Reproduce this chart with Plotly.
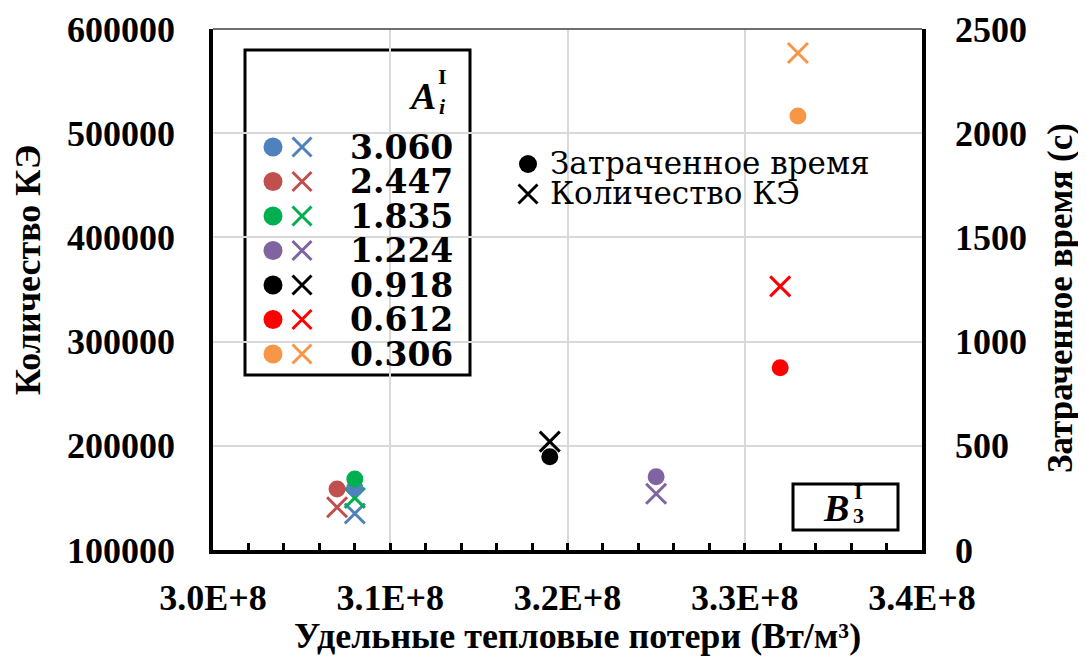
import plotly.graph_objects as go

# ---------------- data ----------------
series_labels = ["3.060", "2.447", "1.835", "1.224", "0.918", "0.612", "0.306"]
series_colors = ["#4F81BD", "#C0504D", "#00B050", "#8064A2", "#000000", "#FF0000", "#F79646"]
heat_loss = [3.08e8, 3.07e8, 3.08e8, 3.25e8, 3.19e8, 3.32e8, 3.33e8]       # W/m3
fe_count = [135000, 141000, 150000, 154000, 204000, 353000, 577000]        # left axis
time_spent = [298, 293, 341, 351, 447, 875, 2082]                          # right axis, s

x_tickvals = [3.0e8, 3.1e8, 3.2e8, 3.3e8, 3.4e8]
x_ticktext = ["3.0E+8", "3.1E+8", "3.2E+8", "3.3E+8", "3.4E+8"]
y_tickvals = [100000, 200000, 300000, 400000, 500000, 600000]
y2_tickvals = [0, 500, 1000, 1500, 2000, 2500]

OFF = 8                          # page body margin of the browser
W, H = 1086 - OFF, 658 - OFF
L, R, T, B = 213, 922, 29, 550   # plot area in screen pixels

SERIF = "Liberation Serif"
CAMB = "DejaVu Serif"

fig = go.Figure()

for i, lab in enumerate(series_labels):
    fig.add_trace(go.Scatter(
        x=[heat_loss[i]], y=[fe_count[i]], mode="markers", yaxis="y", xaxis="x",
        marker=dict(symbol="x-thin-open", size=20, color=series_colors[i],
                    line=dict(color=series_colors[i], width=3)),
        showlegend=False, hoverinfo="skip"))
for i, lab in enumerate(series_labels):
    fig.add_trace(go.Scatter(
        x=[heat_loss[i]], y=[time_spent[i]], mode="markers", yaxis="y2", xaxis="x",
        marker=dict(symbol="circle", size=17, color=series_colors[i]),
        showlegend=False, hoverinfo="skip"))

# ----- decorative legend marks on a hidden pixel-mapped overlay axis -----
row_y = [147, 181.5, 216, 250.5, 285, 319.5, 354]
fig.add_trace(go.Scatter(
    x=[273] * len(row_y), y=row_y, mode="markers", xaxis="x3", yaxis="y3",
    marker=dict(symbol="circle", size=19, color=series_colors),
    showlegend=False, hoverinfo="skip"))
fig.add_trace(go.Scatter(
    x=[302] * len(row_y), y=row_y, mode="markers", xaxis="x3", yaxis="y3",
    marker=dict(symbol="x-thin-open", size=19, color=series_colors,
                line=dict(color=series_colors, width=3)),
    showlegend=False, hoverinfo="skip"))
fig.add_trace(go.Scatter(
    x=[528], y=[164], mode="markers", xaxis="x3", yaxis="y3",
    marker=dict(symbol="circle", size=18, color="black"),
    showlegend=False, hoverinfo="skip"))
fig.add_trace(go.Scatter(
    x=[528], y=[194], mode="markers", xaxis="x3", yaxis="y3",
    marker=dict(symbol="x-thin-open", size=19, color="black",
                line=dict(color="black", width=3)),
    showlegend=False, hoverinfo="skip"))

ann = []
def a(x, y, text, size, family=SERIF, color="black", xanchor="center", yanchor="middle", angle=0):
    ann.append(dict(x=x, y=y, xref="x3", yref="y3", text=text, showarrow=False,
                    font=dict(family=family, size=size, color=color),
                    xanchor=xanchor, yanchor=yanchor, textangle=angle))

def ap(x, y, text, size, family=SERIF, angle=0):
    ann.append(dict(x=(x - L) / (R - L), y=(B - y) / (B - T), xref="paper", yref="paper",
                    text=text, showarrow=False, textangle=angle,
                    font=dict(family=family, size=size, color="black"),
                    xanchor="center", yanchor="middle"))

# legend numbers
for i, lab in enumerate(series_labels):
    a(455, row_y[i], "<b>" + lab + "</b>", 33, family=CAMB, xanchor="right")
# A_i^I
a(422, 96, "<b><i>A</i></b>", 38)
a(442, 76, "<b>I</b>", 22)
a(442, 106, "<b><i>i</i></b>", 22)
# series legend text
a(548, 163, "Затраченное время", 31, family=CAMB, xanchor="left")
a(548, 193, "Количество КЭ", 31, family=CAMB, xanchor="left")
# B_3^I
a(836, 508, "<b><i>B</i></b>", 38)
a(858, 491, "<b>I</b>", 22)
a(858, 515, "<b>3</b>", 22)

# axis titles
ap(577, 636, "<b>Удельные тепловые потери (Вт/м³)</b>", 36)
ap(28, 270, "<b>Количество КЭ</b>", 36, angle=-90)
ap(1060, 298, "<b>Затраченное время (с)</b>", 35, angle=-90)

shapes = [
    # top frame line
    dict(type="line", xref="paper", yref="paper", x0=0, x1=1, y0=1, y1=1,
         line=dict(color="#404040", width=1.5)),
    # legend box
    dict(type="rect", xref="x3", yref="y3", x0=245, x1=470, y0=50, y1=375,
         line=dict(color="black", width=3), fillcolor="white", layer="below"),
    # B box
    dict(type="rect", xref="x3", yref="y3", x0=793, x1=898, y0=484, y1=530,
         line=dict(color="black", width=3), fillcolor="white", layer="below"),
]

tickfont = dict(family=SERIF, size=36, color="black", weight="bold")
fig.update_layout(
    width=W, height=H,
    margin=dict(l=L - OFF, r=W - (R - OFF), t=T - OFF, b=H - (B - OFF), pad=0, autoexpand=False),
    paper_bgcolor="white", plot_bgcolor="white",
    xaxis=dict(range=[3.0e8, 3.4e8], tickvals=x_tickvals, ticktext=x_ticktext,
               tickfont=tickfont, showgrid=True, gridcolor="#d9d9d9", gridwidth=1.5,
               showline=True, linecolor="black", linewidth=3.5,
               ticks="inside", ticklen=7, tickwidth=2.5, tickcolor="black",
               minor=dict(ticks="inside", ticklen=7, tickwidth=2.5, tickcolor="black",
                          dtick=2e6, showgrid=False),
               ticklabelstandoff=13, zeroline=False, automargin=False),
    yaxis=dict(range=[100000, 600000], tickvals=y_tickvals,
               ticktext=[str(v) for v in y_tickvals],
               tickfont=tickfont, showgrid=True, gridcolor="#d9d9d9", gridwidth=1.5,
               showline=True, linecolor="black", linewidth=3.5, ticks="",
               ticklabelstandoff=27, zeroline=False, automargin=False),
    yaxis2=dict(range=[0, 2500], tickvals=y2_tickvals,
                ticktext=[str(v) for v in y2_tickvals],
                overlaying="y", side="right", tickfont=tickfont, showgrid=False,
                showline=True, linecolor="black", linewidth=3.5, ticks="",
                ticklabelstandoff=22, zeroline=False, automargin=False),
    xaxis3=dict(range=[L, R], overlaying="x", visible=False, anchor="y3", automargin=False),
    yaxis3=dict(range=[B, T], overlaying="y", visible=False, anchor="x3", automargin=False),
    annotations=ann,
    shapes=shapes,
)

fig.write_html("out.html")
